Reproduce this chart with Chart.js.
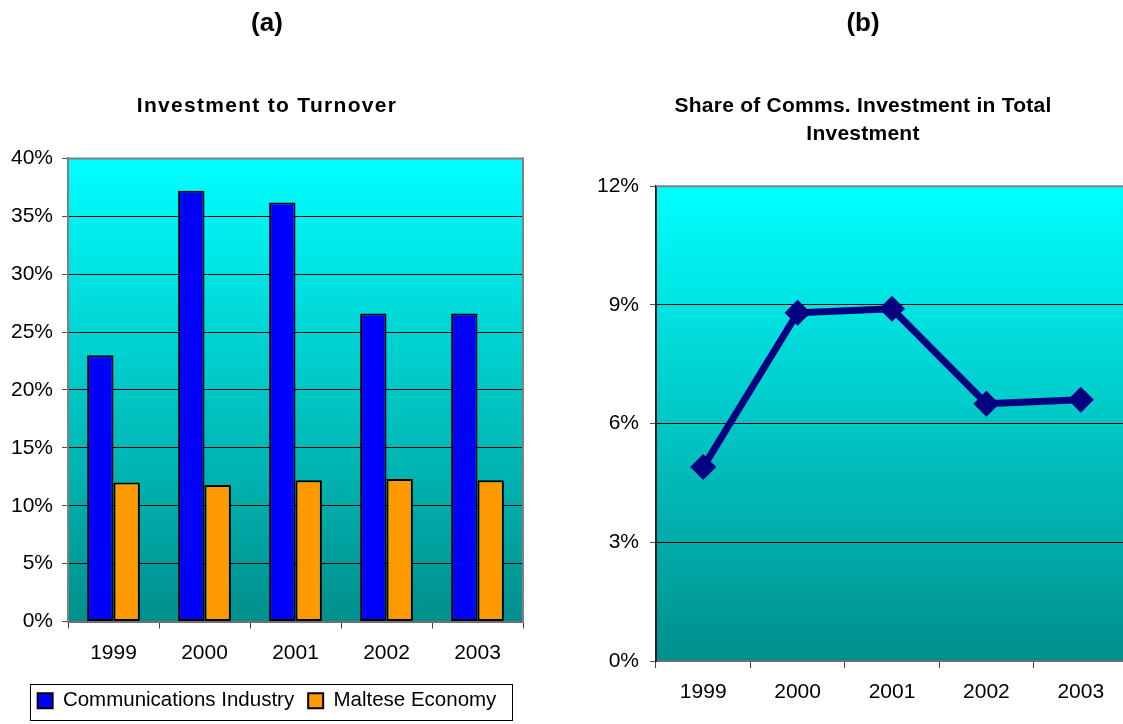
<!DOCTYPE html>
<html lang="en">
<head>
<meta charset="UTF-8">
<script src="https://cdn.jsdelivr.net/npm/chart.js"></script>
<title>Communications Investment</title>
<style>
  html, body { margin: 0; padding: 0; background: #fff; overflow: hidden; width: 1123px; height: 724px; }
  #barChart { position: absolute; left: 0; top: 0; }
  #lineChart { position: absolute; left: 560px; top: 0; }
</style>
</head>
<body>
<canvas id="barChart" width="543" height="724"></canvas>
<canvas id="lineChart" width="568" height="724"></canvas>
<script>
const years = ["1999", "2000", "2001", "2002", "2003"];
const commsInvest = [23.0, 37.2, 36.2, 26.6, 26.6];      // % investment to turnover
const malteseInvest = [12.0, 11.8, 12.2, 12.3, 12.2];
const commsShare = [4.9, 8.8, 8.9, 6.5, 6.6];           // % share in total investment

const FONT = "'Liberation Sans', Arial, sans-serif";
Chart.defaults.font.family = FONT;
Chart.defaults.color = "#000";

// cyan-to-teal plot background and grey frame
const plotBg = {
    id: "plotBg",
    beforeDraw(chart) {
        const a = chart.chartArea, ctx = chart.ctx;
        const g = ctx.createLinearGradient(0, a.top, 0, a.bottom);
        g.addColorStop(0, "#00ffff");
        g.addColorStop(1, "#008f8c");
        ctx.save();
        ctx.fillStyle = g;
        ctx.fillRect(a.left, a.top, a.right - a.left, a.bottom - a.top);
        ctx.restore();
    },
    beforeDatasetsDraw(chart) {
        const a = chart.chartArea, ctx = chart.ctx;
        ctx.save();
        ctx.strokeStyle = "#808080";
        ctx.lineWidth = 2;
        ctx.beginPath();
        ctx.moveTo(a.left, a.top);
        ctx.lineTo(a.right, a.top);
        ctx.lineTo(a.right, a.bottom);
        ctx.stroke();
        ctx.restore();
    }
};

// box round the legend
const legendFrame = {
    id: "legendFrame",
    afterDraw(chart) {
        const boxes = chart.legend && chart.legend.legendHitBoxes;
        if (!boxes || !boxes.length) return;
        const first = boxes[0], last = boxes[boxes.length - 1];
        const x0 = Math.round(first.left - 8) + 0.5;
        const x1 = Math.round(last.left + last.width + 16) + 0.5;
        const y0 = Math.round(first.top - 7) + 0.5;
        const ctx = chart.ctx;
        ctx.save();
        ctx.strokeStyle = "#000";
        ctx.lineWidth = 1;
        ctx.strokeRect(x0, y0, x1 - x0, 36);
        ctx.restore();
    }
};

// the reference spaces out the letters of the subtitle
const spacedSubtitle = {
    id: "spacedSubtitle",
    afterInit(chart, args, opts) {
        const main = chart.titleBlock;
        const box = chart.boxes.find(b => main && b !== main && b.constructor === main.constructor);
        if (!box) return;
        const draw = box.draw;
        box.draw = function () {
            const ctx = chart.ctx;
            ctx.letterSpacing = opts.spacing + "px";
            draw.apply(this, arguments);
            ctx.letterSpacing = "0px";
        };
    }
};

function yScale(max, step, width, axisColor, pad) {
    return {
        min: 0,
        max: max,
        ticks: {
            stepSize: step,
            font: { size: 21 },
            padding: pad,
            callback: v => v + "%"
        },
        grid: { color: "#000", lineWidth: 1, tickLength: 6, tickColor: "#555" },
        border: { color: axisColor, width: 2 },
        afterFit(scale) { scale.width = width; }
    };
}

function xScale(height, pad) {
    return {
        offset: true,
        ticks: { font: { size: 21 }, padding: pad },
        grid: { drawOnChartArea: false, offset: true, tickLength: 7, tickColor: "#444" },
        border: { color: "#707070", width: 2 },
        afterFit(scale) {
            scale.height = height;
            scale.paddingLeft = 0;
            scale.paddingRight = 0;
        }
    };
}

new Chart(document.getElementById("barChart"), {
    type: "bar",
    data: {
        labels: years,
        datasets: [{
            label: "Communications Industry",
            data: commsInvest,
            backgroundColor: "#0000ff",
            borderColor: "#000",
            borderWidth: 2,
            borderSkipped: false
        }, {
            label: "Maltese Economy",
            data: malteseInvest,
            backgroundColor: "#ff9900",
            borderColor: "#000",
            borderWidth: 2,
            borderSkipped: false
        }]
    },
    options: {
        responsive: false,
        animation: false,
        datasets: { bar: { categoryPercentage: 0.58, barPercentage: 1.0 } },
        layout: { autoPadding: false, padding: { left: 11, right: 20, top: 0, bottom: 3 } },
        scales: {
            x: xScale(55, 12),
            y: yScale(40, 5, 57, "#808080", 9)
        },
        plugins: {
            tooltip: { enabled: false },
            spacedSubtitle: { spacing: 1.3 },
            title: {
                display: true,
                text: "(a)",
                font: { size: 26, weight: "bold" },
                padding: { top: 8, bottom: 54 }
            },
            subtitle: {
                display: true,
                text: "Investment to Turnover",
                font: { size: 21, weight: "bold", lineHeight: 1.2 },
                padding: { top: 0, bottom: 40 }
            },
            legend: {
                position: "bottom",
                labels: {
                    boxWidth: 15,
                    boxHeight: 15,
                    padding: 14,
                    font: { size: 20.5 },
                    useBorderRadius: false
                }
            }
        }
    },
    plugins: [plotBg, legendFrame, spacedSubtitle]
});

new Chart(document.getElementById("lineChart"), {
    type: "line",
    data: {
        labels: years,
        datasets: [{
            label: "Share of Comms. Investment",
            data: commsShare,
            borderColor: "#000080",
            backgroundColor: "#000080",
            borderWidth: 7,
            pointStyle: "rectRot",
            pointRadius: 13,
            pointBorderWidth: 0,
            tension: 0
        }]
    },
    options: {
        responsive: false,
        animation: false,
        layout: { autoPadding: false, padding: { left: 38, right: 0, top: 0, bottom: 0 } },
        scales: {
            x: xScale(63, 12),
            y: yScale(12, 3, 58, "#222", 11)
        },
        plugins: {
            tooltip: { enabled: false },
            legend: { display: false },
            spacedSubtitle: { spacing: 0.25 },
            title: {
                display: true,
                text: "(b)",
                font: { size: 26, weight: "bold" },
                padding: { top: 8, bottom: 53 }
            },
            subtitle: {
                display: true,
                text: ["Share of Comms. Investment in Total", "Investment"],
                font: { size: 21, weight: "bold", lineHeight: 1.333 },
                padding: { top: 0, bottom: 38 }
            }
        }
    },
    plugins: [plotBg, spacedSubtitle]
});
</script>
</body>
</html>
